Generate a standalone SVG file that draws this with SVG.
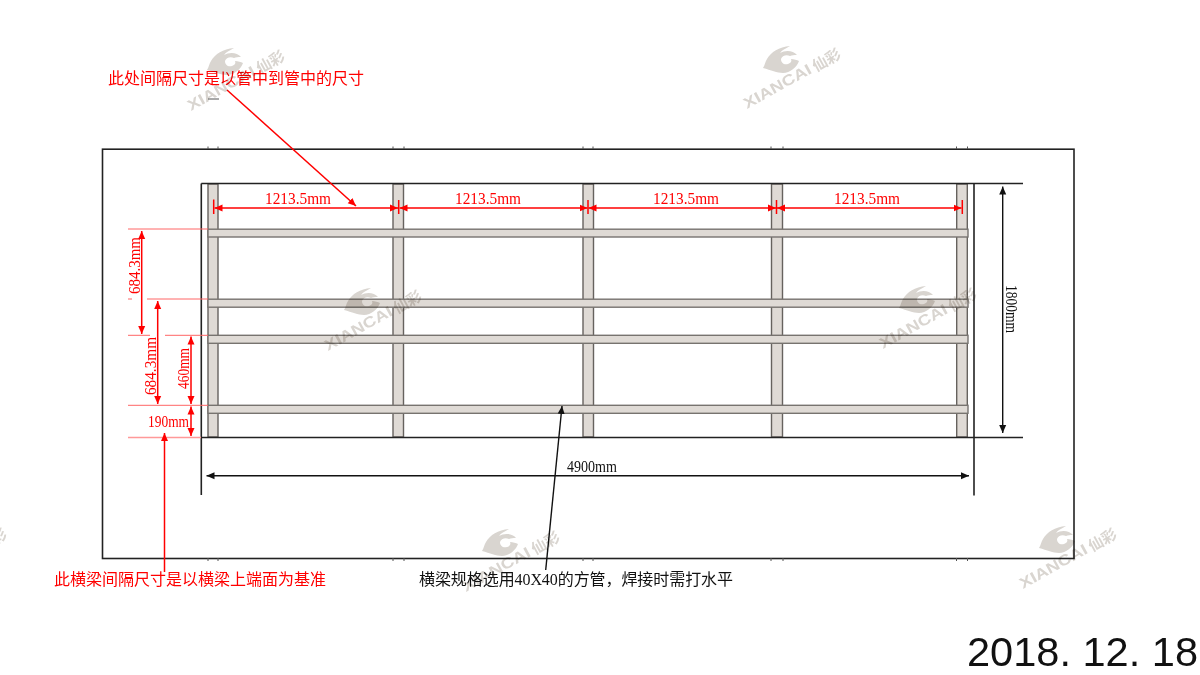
<svg xmlns="http://www.w3.org/2000/svg" width="1200" height="675" viewBox="0 0 1200 675">
<style>
.bg{fill:#fff}
.k{stroke:#222;stroke-width:1.6;fill:none}
.kt{stroke:#111;stroke-width:1.4;fill:none}
.tick{stroke:#555;stroke-width:1;fill:none}
.r{stroke:#f00;stroke-width:1.5;fill:none}
.rl{stroke:#f66;stroke-width:1;fill:none}
.ra{marker-end:url(#ar)}
.rb{marker-start:url(#ars);marker-end:url(#ar)}
.kb{marker-start:url(#aks);marker-end:url(#ak)}
.ka{marker-end:url(#ak)}
.post{fill:#dfdad5;stroke:#66625e;stroke-width:1.4}
.beam{fill:#dfdad5;stroke:#77736f;stroke-width:1.4}
text{font-family:"Liberation Serif","Noto Sans CJK SC",serif}
.t{font-size:16px}
.red{fill:#f00}
.blk{fill:#111}
.date{font-family:"Liberation Sans",sans-serif;font-size:41px;fill:#111}
.wm{mix-blend-mode:multiply}
.wmt{font-family:"Liberation Sans","Noto Sans CJK SC",sans-serif;font-weight:700;fill:#d9d5d0}
.wme{fill:#d9d5d0;fill-rule:evenodd}
</style>
<defs>
<marker id="ar" markerUnits="userSpaceOnUse" markerWidth="9" markerHeight="8" refX="8" refY="4" orient="auto"><path d="M0 0.5L8 4L0 7.5z" fill="#f00"/></marker>
<marker id="ars" markerUnits="userSpaceOnUse" markerWidth="9" markerHeight="8" refX="0" refY="4" orient="auto"><path d="M8 0.5L0 4L8 7.5z" fill="#f00"/></marker>
<marker id="ak" markerUnits="userSpaceOnUse" markerWidth="9" markerHeight="8" refX="8" refY="4" orient="auto"><path d="M0 0.5L8 4L0 7.5z" fill="#111"/></marker>
<marker id="aks" markerUnits="userSpaceOnUse" markerWidth="9" markerHeight="8" refX="0" refY="4" orient="auto"><path d="M8 0.5L0 4L8 7.5z" fill="#111"/></marker>
<g id="wm">
<path class="wme" d="M20 -50C24 -57 32 -62 43 -63C38 -60 35 -59 33 -56C38 -59 46 -59 50 -54C47 -54 45 -54 43 -53C39 -55 35 -53 34 -50C34 -46 37 -44 41 -45C44 -46 45 -48 44 -50C47 -50 50 -49 52 -48C50 -42 43 -36 36 -36C30 -36 24 -39 16 -41C18 -44 18 -47 20 -50Z"/>
<text class="wmt" transform="rotate(-29)" font-size="15" textLength="75" lengthAdjust="spacingAndGlyphs">XIANCAI</text>
<text class="wmt" transform="translate(69 -37) rotate(-29)" font-size="15" font-weight="400">仙彩</text>
</g>
</defs>
<rect class="bg" width="1200" height="675"/>

<g id="frame">
<rect class="k" x="102.5" y="149.2" width="971.5" height="409.3"/>
<path class="tick" d="M208 146.5V149M218 146.5V149M393 146.5V149M404 146.5V149M583 146.5V149M593 146.5V149M771 146.5V149M783 146.5V149M956.5 146.5V149M967.5 146.5V149M208 558V561M218 558V561M393 558V561M404 558V561M583 558V561M593 558V561M771 558V561M783 558V561M956.5 558V561M967.5 558V561"/>
</g>

<g id="posts">
<rect class="post" x="208" y="184" width="10" height="253"/>
<rect class="post" x="393" y="184" width="10.5" height="253"/>
<rect class="post" x="583" y="184" width="10.5" height="253"/>
<rect class="post" x="771.500" y="184" width="11" height="253"/>
<rect class="post" x="956.700" y="184" width="10.600" height="253"/>
</g>
<g id="beams">
<rect class="beam" x="208" y="229.200" width="760" height="7.800"/>
<rect class="beam" x="208" y="299.200" width="760" height="8"/>
<rect class="beam" x="208" y="335.300" width="760" height="8"/>
<rect class="beam" x="208" y="405.300" width="760" height="8"/>
</g>

<g id="connectors">
<path class="k" d="M201.300 183.500H1023M201.300 437.500H1023M201.300 183.500V495M974 183.500V495.500"/>
<path class="kt kb" d="M1002.700 186.500V433"/>
<path class="kt kb" d="M206.500 475.800H969"/>
<path class="kt ka" d="M545.700 570L562 406"/>
<path class="tick" d="M208 99H219"/>

<path class="r" d="M213.700 199.500V214M398.700 200V214M588 200V214M776.500 200V214M962.300 200V214"/>
<path class="r rb" d="M214.500 208H398"/>
<path class="r rb" d="M399.500 208H587.500"/>
<path class="r rb" d="M588.500 208H776"/>
<path class="r rb" d="M777 208H961.500"/>
<path class="r ra" d="M227 90L356 206"/>
<path class="rl" d="M128 229H208M128 299H132M147 299H208M128 335.300H150M165 335.300H208M128 405.300H208"/>
<path d="M128 437.500H201" stroke="#f99" stroke-width="1.600" fill="none"/>
<path class="r rb" d="M141.700 231V334"/>
<path class="r rb" d="M157.700 301V404"/>
<path class="r rb" d="M191 336.500V404"/>
<path class="r rb" d="M191 406.500V436"/>
<path class="r ra" d="M164.500 572V433"/>
</g>

<g id="labels">
<text class="t red" x="108" y="84">此处间隔尺寸是以管中到管中的尺寸</text>
<text class="t red" x="54" y="585">此横梁间隔尺寸是以横梁上端面为基准</text>
<text class="t blk" x="419" y="585" textLength="314">横梁规格选用40X40的方管，焊接时需打水平</text>
<text class="t red" x="265" y="204" textLength="66" lengthAdjust="spacingAndGlyphs">1213.5mm</text>
<text class="t red" x="455" y="204" textLength="66" lengthAdjust="spacingAndGlyphs">1213.5mm</text>
<text class="t red" x="653" y="204" textLength="66" lengthAdjust="spacingAndGlyphs">1213.5mm</text>
<text class="t red" x="834" y="204" textLength="66" lengthAdjust="spacingAndGlyphs">1213.5mm</text>
<text class="t red" transform="translate(140 294) rotate(-90)" textLength="57" lengthAdjust="spacingAndGlyphs">684.3mm</text>
<text class="t red" transform="translate(155.500 395) rotate(-90)" textLength="58" lengthAdjust="spacingAndGlyphs">684.3mm</text>
<text class="t red" transform="translate(189 389) rotate(-90)" textLength="41" lengthAdjust="spacingAndGlyphs">460mm</text>
<text class="t red" x="148" y="427" textLength="41" lengthAdjust="spacingAndGlyphs">190mm</text>
<text class="t blk" transform="translate(1006 285) rotate(90)" textLength="48" lengthAdjust="spacingAndGlyphs">1800mm</text>
<text class="t blk" x="567" y="472" textLength="50" lengthAdjust="spacingAndGlyphs">4900mm</text>
<text class="date" x="967" y="666" textLength="231" lengthAdjust="spacingAndGlyphs">2018. 12. 18</text>
</g>

<g id="watermarks">
<use class="wm" href="#wm" x="191" y="111"/>
<use class="wm" href="#wm" x="747" y="109"/>
<use class="wm" href="#wm" x="328" y="351"/>
<use class="wm" href="#wm" x="883" y="349"/>
<use class="wm" href="#wm" x="466" y="592"/>
<use class="wm" href="#wm" x="1023" y="589"/>
<use class="wm" href="#wm" x="-87" y="589"/>
</g>
</svg>
